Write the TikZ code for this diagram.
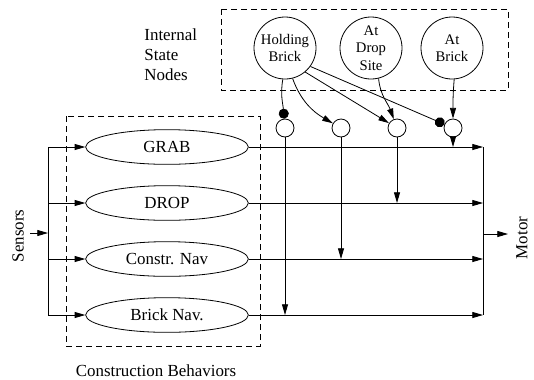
\documentclass[tikz,border=0pt]{standalone}
\usepackage{fontspec}
\setmainfont{Liberation Serif}
\usetikzlibrary{
  arrows.meta,
  shapes.geometric
}

\begin{document}
\begin{tikzpicture}[x=0.75pt, y=-0.75pt, line width=0.6pt,
  every node/.style={font=\fontsize{12.7}{15}\selectfont},
  behav/.style={draw, ellipse, minimum width=122pt, minimum height=26pt, inner sep=0pt},
  statenode/.style={draw, circle, minimum size=46.5pt, inner sep=0pt, align=center,
    font=\fontsize{11}{13}\selectfont},
  gate/.style={draw, circle, minimum size=13.5pt, inner sep=0pt},
  grp/.style={draw, dash pattern=on 4.5pt off 3pt},
  excite/.style={-{Triangle[length=8pt, width=4.5pt]}},
  inhibit/.style={-{Circle[length=7.5pt]}}]
  \useasboundingbox (0,0) rectangle (534,379);

  \draw[grp] (221,9) rectangle (508,90);
  \draw[grp] (66,116) rectangle (260,346);

  \node[statenode] (hold) at (285,48) {Holding\\Brick};
  \node[statenode] (atdrop) at (371,48) {At\\Drop\\Site};
  \node[statenode] (atbrick) at (452,48) {At\\Brick};

  \node[gate] (g1) at (285,128) {};
  \node[gate] (g2) at (341,128) {};
  \node[gate] (g3) at (397,128) {};
  \node[gate] (g4) at (453,128) {};

  \node[behav] (grab) at (167,147) {GRAB};
  \node[behav] (drop) at (167,203) {DROP};
  \node[behav] (cnav) at (167,259) {Constr. Nav};
  \node[behav] (bnav) at (167,315) {Brick Nav.};

  \node[anchor=west, align=left, inner sep=0pt] (isn) at (144,55) {Internal\\State\\Nodes};
  \node (cbeh) at (156,371) {Construction Behaviors};
  \node[rotate=90] (sens) at (18,236) {Sensors};
  \node[rotate=90] (motor) at (522,238) {Motor};

  \coordinate (sin) at (30,233);
  \coordinate (lbus) at (48,233);
  \coordinate (ltop) at (48,147);
  \coordinate (lbot) at (48,315);
  \coordinate (rtop) at (483,147);
  \coordinate (rbot) at (483,315);
  \coordinate (rbus) at (483,234);
  \coordinate (mout) at (508,234);

  \draw[excite] (sin) -- (lbus);
  \draw (ltop) -- (lbot);
  \draw (rtop) -- (rbot);
  \draw[excite] (rbus) -- (mout);
  \foreach \b in {grab,drop,cnav,bnav} {
    \draw[excite] (ltop |- \b) -- (\b);
    \draw[excite] (\b) -- (rtop |- \b);
  }

  \draw[excite] (g1) -- (g1 |- bnav);
  \draw[excite] (g2) -- (g2 |- cnav);
  \draw[excite] (g3) -- (g3 |- drop);
  \draw[excite] (g4) -- (g4 |- grab);

  \draw[inhibit] (hold.-94) to[out=-100, in=95] (g1);
  \draw[excite] (hold.-76) to[out=-70, in=150] (g2);
  \draw[excite] (hold.-50) -- (g3);
  \draw[inhibit] (hold.-36) -- (g4);
  \draw[excite] (atdrop.-76) to[out=-85, in=110] (g3);
  \draw[excite] (atbrick.-86) to[out=-95, in=90] (g4);
\end{tikzpicture}
\end{document}
